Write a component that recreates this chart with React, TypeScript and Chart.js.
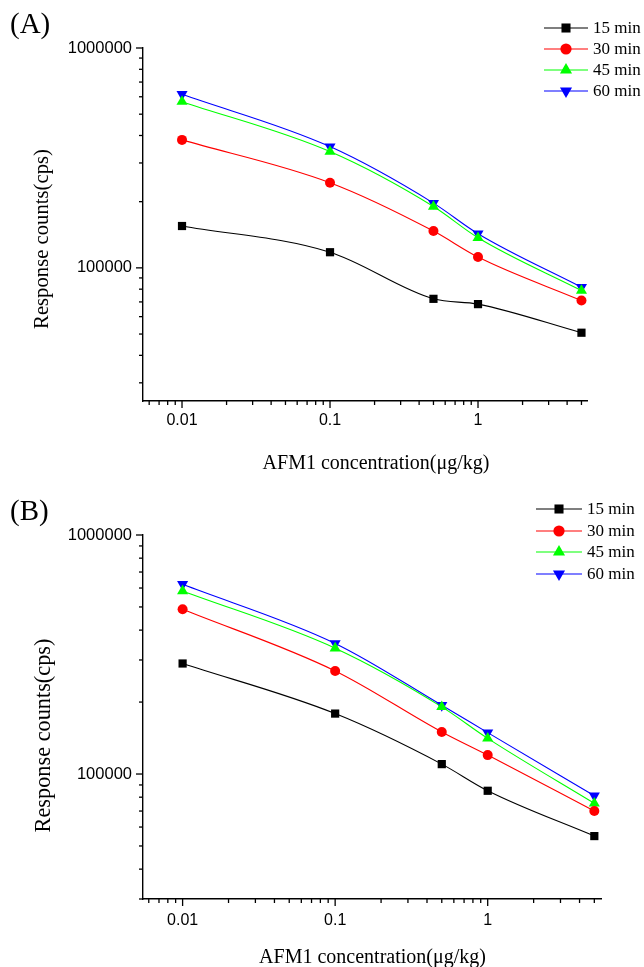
import React, { useEffect, useRef } from "react";
import { Chart, registerables } from "chart.js";

Chart.register(...registerables);

// ---- data ----
const concentrations = [0.01, 0.1, 0.5, 1, 5];
const seriesLabels = ["15 min", "30 min", "45 min", "60 min"];

const panelA_15 = [155000, 117800, 72300, 68400, 50700];
const panelA_30 = [382000, 244000, 147000, 112000, 71000];
const panelA_45 = [570000, 338000, 190000, 137000, 78800];
const panelA_60 = [616000, 356000, 197000, 143000, 81700];

const panelB_15 = [290000, 179000, 110000, 85100, 55000];
const panelB_30 = [489000, 270000, 150000, 120000, 70000];
const panelB_45 = [583000, 336000, 191000, 141000, 75400];
const panelB_60 = [622000, 352000, 194000, 149000, 81100];

const xTitle = "AFM1 concentration(\u03bcg/kg)";
const yTitle = "Response counts(cps)";

// ---- styles ----
const colors = ["#000000", "#ff0000", "#00ff00", "#0000ff"];
const markers = ["rect", "circle", "triangle", "triangle"];
const markerRot = [0, 0, 0, 180];
const markerRadius = [5.8, 5, 6.4, 6.4];
const SERIF = '"Liberation Serif", "Times New Roman", serif';
const SANS = '"Liberation Sans", Arial, sans-serif';

function drawMarker(ctx: CanvasRenderingContext2D, style: string, x: number, y: number, r: number, rot: number, color: string) {
  ctx.save();
  ctx.fillStyle = color;
  ctx.beginPath();
  if (style === "rect") {
    const s = Math.SQRT1_2 * r;
    ctx.rect(x - s, y - s, 2 * s, 2 * s);
  } else if (style === "circle") {
    ctx.arc(x, y, r, 0, Math.PI * 2);
  } else {
    let a = (rot * Math.PI) / 180;
    ctx.moveTo(x + Math.sin(a) * r, y - Math.cos(a) * r);
    a += (2 * Math.PI) / 3;
    ctx.lineTo(x + Math.sin(a) * r, y - Math.cos(a) * r);
    a += (2 * Math.PI) / 3;
    ctx.lineTo(x + Math.sin(a) * r, y - Math.cos(a) * r);
    ctx.closePath();
  }
  ctx.fill();
  ctx.restore();
}

const logTicksPlugin = {
  id: "logTicks",
  afterDraw(chart: any) {
    const ctx = chart.ctx as CanvasRenderingContext2D;
    ["x", "y"].forEach((id) => {
      const s = chart.scales[id];
      const min = s.min;
      const max = s.max;
      ctx.save();
      ctx.strokeStyle = "#000";
      ctx.lineWidth = 1.3;
      for (let e = Math.floor(Math.log10(min)); e <= Math.ceil(Math.log10(max)); e++) {
        for (let k = 1; k <= 9; k++) {
          const v = k * Math.pow(10, e);
          if (v < min * 0.999 || v > max * 1.001) continue;
          const p = s.getPixelForValue(v);
          const len = k === 1 ? 7 : 4;
          ctx.beginPath();
          if (id === "x") {
            ctx.moveTo(p, s.top);
            ctx.lineTo(p, s.top + len);
          } else {
            ctx.moveTo(s.right, p);
            ctx.lineTo(s.right - len, p);
          }
          ctx.stroke();
        }
      }
      ctx.restore();
    });
  },
};

const annotPlugin = {
  id: "annot",
  afterDraw(chart: any, _args: any, opts: any) {
    const ctx = chart.ctx as CanvasRenderingContext2D;
    ctx.save();
    ctx.fillStyle = "#000";
    ctx.font = `${opts.labelSize}px ${SERIF}`;
    ctx.textAlign = "left";
    ctx.textBaseline = "alphabetic";
    ctx.fillText(opts.label, opts.labelX, opts.labelY);
    ctx.font = `${opts.xTitleSize}px ${SERIF}`;
    ctx.textAlign = "center";
    ctx.fillText(xTitle, opts.xTitleX, opts.xTitleY);
    ctx.save();
    ctx.translate(opts.yTitleX, opts.yTitleY);
    ctx.rotate(-Math.PI / 2);
    ctx.font = `${opts.yTitleSize}px ${SERIF}`;
    ctx.textAlign = "center";
    ctx.fillText(yTitle, 0, 0);
    ctx.restore();
    const lg = opts.legend;
    chart.data.datasets.forEach((ds: any, i: number) => {
      const y = lg.ys[i];
      ctx.strokeStyle = colors[i];
      ctx.lineWidth = 1.2;
      ctx.beginPath();
      ctx.moveTo(lg.x1, y);
      ctx.lineTo(lg.x2, y);
      ctx.stroke();
      drawMarker(ctx, markers[i], (lg.x1 + lg.x2) / 2, y, markerRadius[i] + 0.6, markerRot[i], colors[i]);
      ctx.fillStyle = "#000";
      ctx.font = `${lg.size}px ${SERIF}`;
      ctx.textAlign = "left";
      ctx.textBaseline = "middle";
      ctx.fillText(ds.label, lg.textX, y + 1);
    });
    ctx.restore();
  },
};

function tickLabel(v: number) {
  const e = Math.log10(v);
  if (Math.abs(e - Math.round(e)) > 1e-6) return "";
  const r = Math.round(e);
  return r >= 0 ? String(Math.round(Math.pow(10, r))) : Math.pow(10, r).toFixed(-r);
}

function buildConfig(series: number[][], geo: any): any {
  return {
    type: "line",
    data: {
      datasets: series.map((vals, i) => ({
        label: seriesLabels[i],
        data: concentrations.map((c, j) => ({ x: c, y: vals[j] })),
        borderColor: colors[i],
        backgroundColor: colors[i],
        borderWidth: 1.1,
        pointStyle: markers[i],
        pointRotation: markerRot[i],
        pointRadius: markerRadius[i],
        pointBorderWidth: 0,
        pointBackgroundColor: colors[i],
        cubicInterpolationMode: "monotone",
        fill: false,
      })),
    },
    options: {
      responsive: false,
      animation: false,
      layout: { padding: { top: geo.top, right: geo.right, left: 0, bottom: 0 } },
      scales: {
        x: {
          type: "logarithmic",
          min: geo.xmin,
          max: geo.xmax,
          grid: { display: false, drawTicks: false },
          border: { display: true, color: "#000", width: 1.4 },
          ticks: {
            autoSkip: false,
            maxRotation: 0,
            padding: geo.xPad,
            color: "#000",
            font: { family: SANS, size: 16 },
            callback: (v: number) => tickLabel(v),
          },
          afterFit: (s: any) => {
            s.height = geo.xHeight;
          },
        },
        y: {
          type: "logarithmic",
          min: geo.ymin,
          max: geo.ymax,
          grid: { display: false, drawTicks: false },
          border: { display: true, color: "#000", width: 1.4 },
          ticks: {
            autoSkip: false,
            padding: 11,
            color: "#000",
            font: { family: SANS, size: 16.5 },
            callback: (v: number) => tickLabel(v),
          },
          afterFit: (s: any) => {
            s.width = geo.yWidth;
          },
        },
      },
      plugins: {
        legend: { display: false },
        tooltip: { enabled: false },
        annot: geo.annot,
      },
    },
    plugins: [logTicksPlugin, annotPlugin],
  };
}

const geoA = {
  top: 48,
  right: 57,
  xmin: 0.00545,
  xmax: 5.45,
  ymin: 24800,
  ymax: 1000000,
  xHeight: 79,
  yWidth: 143,
  xPad: 10,
  annot: {
    label: "(A)",
    labelX: 10,
    labelY: 33,
    labelSize: 29,
    xTitleX: 376,
    xTitleY: 469,
    xTitleSize: 20,
    yTitleX: 48,
    yTitleY: 239,
    yTitleSize: 20.7,
    legend: { x1: 544, x2: 588, textX: 593, ys: [28, 49, 70, 91], size: 17 },
  },
};

const geoB = {
  top: 55,
  right: 43,
  xmin: 0.0055,
  xmax: 5.53,
  ymin: 30000,
  ymax: 1000000,
  xHeight: 68,
  yWidth: 143,
  xPad: 11.5,
  annot: {
    label: "(B)",
    labelX: 10,
    labelY: 40,
    labelSize: 29,
    xTitleX: 372.5,
    xTitleY: 483,
    xTitleSize: 20,
    yTitleX: 50,
    yTitleY: 255.5,
    yTitleSize: 22.3,
    legend: { x1: 536, x2: 582, textX: 587, ys: [29, 51, 72, 94], size: 17 },
  },
};

export default function App() {
  const refA = useRef<HTMLCanvasElement | null>(null);
  const refB = useRef<HTMLCanvasElement | null>(null);

  useEffect(() => {
    document.body.style.margin = "0";
    const a = new Chart(refA.current as HTMLCanvasElement, buildConfig([panelA_15, panelA_30, panelA_45, panelA_60], geoA));
    const b = new Chart(refB.current as HTMLCanvasElement, buildConfig([panelB_15, panelB_30, panelB_45, panelB_60], geoB));
    return () => {
      a.destroy();
      b.destroy();
    };
  }, []);

  return (
    <div style={{ width: 644, height: 967, background: "#fff" }}>
      <canvas ref={refA} width={644} height={480} style={{ display: "block" }} />
      <canvas ref={refB} width={644} height={487} style={{ display: "block" }} />
    </div>
  );
}
